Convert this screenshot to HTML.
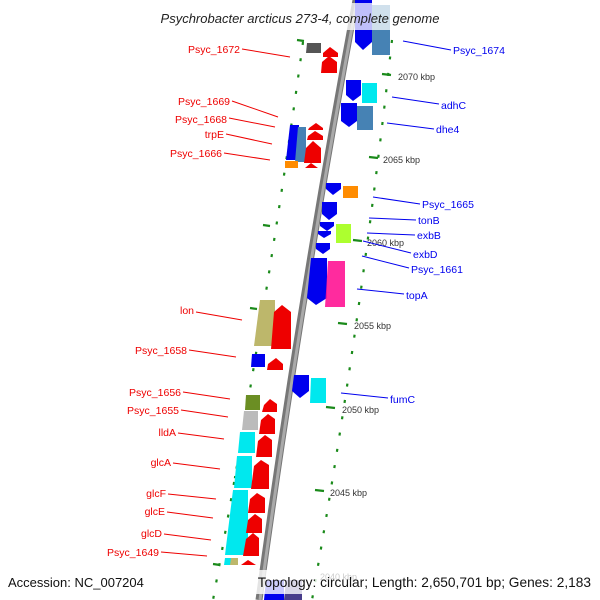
<!DOCTYPE html>
<html><head><meta charset="utf-8"><style>
html,body{margin:0;padding:0;background:#fff}
svg{display:block}
text{font-family:"Liberation Sans",sans-serif}
</style></head><body>
<svg width="600" height="600" viewBox="0 0 600 600" xmlns="http://www.w3.org/2000/svg">
<!-- tick arcs -->
<g stroke="#1a8a1a" stroke-width="2.2" stroke-dasharray="3 13.5" fill="none">
<path d="M303,42 Q268,300 213,600"/>
<path d="M392,40 Q360,330 312,600"/>
</g>
<g stroke="#1a8a1a" stroke-width="2.2">
<line x1="382" y1="74" x2="391" y2="75"/>
<line x1="369" y1="157" x2="378" y2="158"/>
<line x1="353" y1="240" x2="362" y2="241"/>
<line x1="338" y1="323" x2="347" y2="324"/>
<line x1="326" y1="407" x2="335" y2="408"/>
<line x1="315" y1="490" x2="324" y2="491"/>
<line x1="297" y1="40" x2="304" y2="41"/>
<line x1="263" y1="225" x2="270" y2="226"/>
<line x1="250" y1="308" x2="257" y2="309"/>
<line x1="234" y1="477" x2="241" y2="478"/>
<line x1="213" y1="564" x2="220" y2="565"/>
</g>
<!-- backbone -->
<path d="M356,0 Q300,300 259,600" stroke="#777" stroke-width="7" fill="none"/>
<path d="M357,0 Q301,300 260,600" stroke="#aaa" stroke-width="3" fill="none"/>
<!-- genes right strand (blue, down) -->
<g>
<path d="M355,0 H372 V42 L363,50 L355,42 Z" fill="#0000ee"/>
<path d="M372,5 H390 V55 H372 Z" fill="#4682b4"/>
<path d="M346,80 H361 V95 L353,101 L346,95 Z" fill="#0000ee"/>
<path d="M362,83 H377 V103 H362 Z" fill="#00e8ee"/>
<path d="M341,103 H357 V121 L349,127 L341,121 Z" fill="#0000ee"/>
<path d="M357,106 H373 V130 H357 Z" fill="#4682b4"/>
<path d="M326,183 H341 V189 L333,195 L326,189 Z" fill="#0000ee"/>
<path d="M343,186 H358 V198 H343 Z" fill="#ff8c00"/>
<path d="M322,202 H337 V214 L329,220 L322,214 Z" fill="#0000ee"/>
<path d="M320,222 H334 V226 L327,231 L320,226 Z" fill="#0000ee"/>
<path d="M318,231 H331 V234 L324,238 L318,234 Z" fill="#0000ee"/>
<path d="M336,224 H351 V243 H336 Z" fill="#adff2f"/>
<path d="M316,243 H330 V249 L323,254 L316,249 Z" fill="#0000ee"/>
<path d="M311,258 H327 V298 L316,305 L307,298 Z" fill="#0000ee"/>
<path d="M328,261 H345 V307 H325 Z" fill="#ff1493" opacity="0.9"/>
<path d="M294,375 H309 V391 L300,398 L292,391 Z" fill="#0000ee"/>
<path d="M311,378 H326 V403 H310 Z" fill="#00e8ee"/>
<path d="M266,580 H284 V600 H264 Z" fill="#0000ee"/>
<path d="M286,580 H302 V600 H284 Z" fill="#483d8b"/>
</g>
<!-- genes left strand -->
<g>
<path d="M307,43 H321 V53 H306 Z" fill="#555"/>
<path d="M323,53 L330,47 L338,53 V57 H323 Z" fill="#ee0000"/>
<path d="M322,62 L329,56 L337,62 V73 H321 Z" fill="#ee0000"/>
<path d="M290,125 H299 V160 H286 Z" fill="#0000ee"/>
<path d="M298,127 H306 V162 H295 Z" fill="#4682b4"/>
<path d="M285,161 H298 V168 H285 Z" fill="#ff8c00"/>
<path d="M309,128 L316,123 L323,128 V130 H308 Z" fill="#ee0000"/>
<path d="M308,136 L315,131 L323,136 V140 H307 Z" fill="#ee0000"/>
<path d="M306,148 L313,141 L321,148 V163 H304 Z" fill="#ee0000"/>
<path d="M305,168 L311,163 L318,168 Z" fill="#ee0000"/>
<path d="M260,300 H275 V346 H254 Z" fill="#bdb76b"/>
<path d="M274,312 L282,305 L291,312 V349 H271 Z" fill="#ee0000"/>
<path d="M252,354 H265 V367 H251 Z" fill="#0000ee"/>
<path d="M268,364 L276,358 L283,364 V370 H267 Z" fill="#ee0000"/>
<path d="M246,395 H260 V410 H245 Z" fill="#6b8e23"/>
<path d="M264,405 L270,399 L277,404 V412 H262 Z" fill="#ee0000"/>
<path d="M244,411 H258 V430 H242 Z" fill="#bbb"/>
<path d="M261,420 L268,414 L275,419 V434 H259 Z" fill="#ee0000"/>
<path d="M240,432 H255 V453 H238 Z" fill="#00e8ee"/>
<path d="M258,441 L265,435 L272,440 V457 H256 Z" fill="#ee0000"/>
<path d="M237,456 H252 V488 H234 Z" fill="#00e8ee"/>
<path d="M254,466 L261,460 L269,465 V489 H251 Z" fill="#ee0000"/>
<path d="M233,490 H248 V555 H225 Z" fill="#00e8ee"/>
<path d="M250,499 L257,493 L265,498 V513 H248 Z" fill="#ee0000"/>
<path d="M248,520 L255,514 L262,519 V533 H246 Z" fill="#ee0000"/>
<path d="M246,539 L253,533 L259,538 V556 H243 Z" fill="#ee0000"/>
<path d="M225,558 H231 V565 H224 Z" fill="#00e8ee"/>
<path d="M231,558 H238 V565 H230 Z" fill="#bdb76b"/>
<path d="M241,565 L248,560 L256,565 Z" fill="#ee0000"/>
</g>
<!-- faded bands -->
<rect x="130" y="3" width="340" height="27" fill="#fff" opacity="0.75"/>
<rect x="245" y="570" width="350" height="24" fill="#fff" opacity="0.8"/>
<!-- kbp labels -->
<g font-size="9" fill="#333">
<text x="398" y="80">2070 kbp</text>
<text x="383" y="163">2065 kbp</text>
<text x="367" y="246">2060 kbp</text>
<text x="354" y="329">2055 kbp</text>
<text x="342" y="413">2050 kbp</text>
<text x="330" y="496">2045 kbp</text>
<text x="320" y="580" fill="#ccc">2040 kbp</text>
</g>
<!-- left labels -->
<g stroke="#ee0000" stroke-width="1">
<line x1="242" y1="49" x2="290" y2="57"/>
<line x1="232" y1="101" x2="278" y2="117"/>
<line x1="229" y1="118" x2="275" y2="127"/>
<line x1="226" y1="134" x2="272" y2="144"/>
<line x1="224" y1="153" x2="270" y2="160"/>
<line x1="196" y1="312" x2="242" y2="320"/>
<line x1="189" y1="350" x2="236" y2="357"/>
<line x1="183" y1="392" x2="230" y2="399"/>
<line x1="181" y1="410" x2="228" y2="417"/>
<line x1="178" y1="433" x2="224" y2="439"/>
<line x1="173" y1="463" x2="220" y2="469"/>
<line x1="168" y1="494" x2="216" y2="499"/>
<line x1="167" y1="512" x2="213" y2="518"/>
<line x1="164" y1="534" x2="211" y2="540"/>
<line x1="161" y1="552" x2="207" y2="556"/>
</g>
<g font-size="10.5" fill="#ee0000" text-anchor="end">
<text x="240" y="53">Psyc_1672</text>
<text x="230" y="105">Psyc_1669</text>
<text x="227" y="123">Psyc_1668</text>
<text x="224" y="138">trpE</text>
<text x="222" y="157">Psyc_1666</text>
<text x="194" y="314">lon</text>
<text x="187" y="354">Psyc_1658</text>
<text x="181" y="396">Psyc_1656</text>
<text x="179" y="414">Psyc_1655</text>
<text x="176" y="436">lldA</text>
<text x="171" y="466">glcA</text>
<text x="166" y="497">glcF</text>
<text x="165" y="515">glcE</text>
<text x="162" y="537">glcD</text>
<text x="159" y="556">Psyc_1649</text>
</g>
<!-- right labels -->
<g stroke="#0000ee" stroke-width="1">
<line x1="403" y1="41" x2="451" y2="50"/>
<line x1="392" y1="97" x2="439" y2="104"/>
<line x1="387" y1="123" x2="434" y2="129"/>
<line x1="373" y1="197" x2="420" y2="204"/>
<line x1="369" y1="218" x2="416" y2="220"/>
<line x1="367" y1="233" x2="415" y2="235"/>
<line x1="363" y1="241" x2="411" y2="253"/>
<line x1="362" y1="256" x2="409" y2="268"/>
<line x1="357" y1="289" x2="404" y2="294"/>
<line x1="341" y1="393" x2="388" y2="398"/>
</g>
<g font-size="10.5" fill="#0000ee">
<text x="453" y="54">Psyc_1674</text>
<text x="441" y="109">adhC</text>
<text x="436" y="133">dhe4</text>
<text x="422" y="208">Psyc_1665</text>
<text x="418" y="224">tonB</text>
<text x="417" y="239">exbB</text>
<text x="413" y="258">exbD</text>
<text x="411" y="273">Psyc_1661</text>
<text x="406" y="299">topA</text>
<text x="390" y="403">fumC</text>
</g>
<text x="300" y="23" font-size="13" font-style="italic" text-anchor="middle" fill="#222" font-family="DejaVu Sans, sans-serif">Psychrobacter arcticus 273-4, complete genome</text>
<text x="8" y="587" font-size="13" fill="#111">Accession: NC_007204</text>
<text x="591" y="587" font-size="13.7" fill="#111" text-anchor="end">Topology: circular; Length: 2,650,701 bp; Genes: 2,183</text>
</svg>
</body></html>
